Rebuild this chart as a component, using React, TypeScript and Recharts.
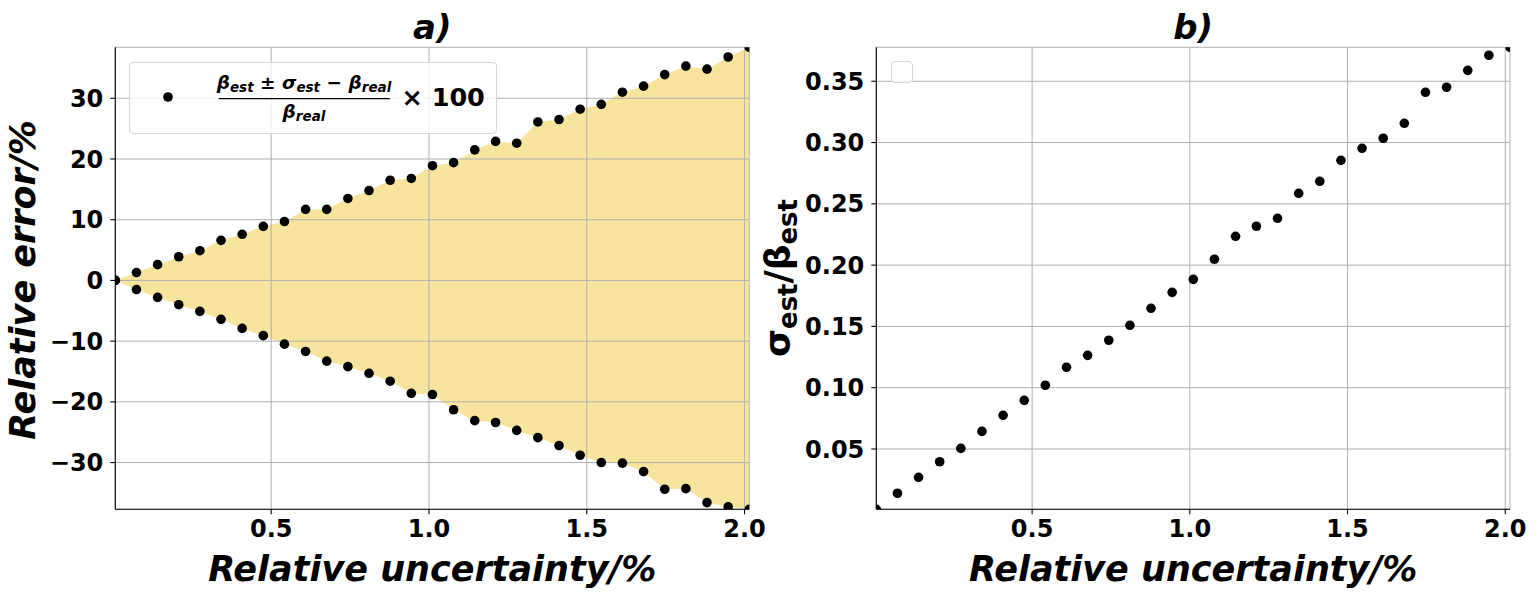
import { Area, CartesianGrid, ComposedChart, Label, Legend, Scatter, XAxis, YAxis } from 'recharts';

const uncertainty = [
  0.006, 0.073, 0.14, 0.207, 0.274, 0.341, 0.408, 0.475, 0.542, 0.609, 0.676, 0.743, 0.81, 0.877, 0.944, 1.011,
  1.078, 1.145, 1.211, 1.278, 1.345, 1.412, 1.479, 1.546, 1.613, 1.68, 1.747, 1.814, 1.881, 1.948, 2.015,
];
const errorUpper = [
  0, 1.3, 2.6, 3.9, 4.9, 6.6, 7.6, 8.9, 9.7, 11.7, 11.7, 13.5, 14.8, 16.5, 16.8, 18.9, 19.4, 21.5, 22.9, 22.6, 26.1,
  26.5, 28.2, 29.0, 31.0, 32.0, 33.9, 35.3, 34.8, 36.8, 38.4,
];
const errorLower = [
  0, -1.5, -2.8, -4.0, -5.1, -6.4, -7.9, -9.1, -10.5, -11.7, -13.3, -14.2, -15.3, -16.6, -18.6, -18.8, -21.3, -23.1,
  -23.4, -24.7, -25.9, -27.2, -28.8, -30.0, -30.1, -31.5, -34.4, -34.3, -36.6, -37.3, -37.7,
];
const sigmaRatio = [
  0.0008, 0.0139, 0.0269, 0.0396, 0.0505, 0.0644, 0.0775, 0.0897, 0.102, 0.1167, 0.1264, 0.1387, 0.1509, 0.1648,
  0.1778, 0.1884, 0.2048, 0.2235, 0.2317, 0.2382, 0.2586, 0.2684, 0.2855, 0.2953, 0.3035, 0.3157, 0.341, 0.3451,
  0.3589, 0.3712, 0.3777,
];

const xTicks = [0.5, 1.0, 1.5, 2.0];
const errorTicks = [-30, -20, -10, 0, 10, 20, 30];
const ratioTicks = [0.05, 0.1, 0.15, 0.2, 0.25, 0.3, 0.35];

const errorRows = uncertainty.map((x, i) => ({
  x,
  hi: errorUpper[i],
  lo: errorLower[i],
  band: [errorLower[i], errorUpper[i]],
}));
const ratioRows = uncertainty.map((x, i) => ({ x, ratio: sigmaRatio[i] }));

const FONT = '"DejaVu Sans", sans-serif';
const FILL = '#f8e59d';
const tickStyle = { fill: '#000', fontSize: 24, fontWeight: 'bold', fontFamily: FONT };
const spine = { stroke: '#000', strokeWidth: 1.1 };

const Dot = (p: any) => <circle cx={p.cx} cy={p.cy} r={4.8} fill="#000" />;

const fmtSigned = (v: number) => (v < 0 ? `\u2212${Math.abs(v)}` : `${v}`);

// panel title, hung off the bottom x axis so it gets the plot's x extent
const titleFor = (text: string) => (props: any) => {
  const vb = props.viewBox ?? {};
  return (
    <text
      x={vb.x + vb.width / 2}
      y={39}
      textAnchor="middle"
      fontFamily={FONT}
      fontSize={34}
      fontWeight="bold"
      fontStyle="italic"
    >
      {text}
    </text>
  );
};

const xTitle = (props: any) => {
  const vb = props.viewBox ?? {};
  return (
    <text
      x={vb.x + vb.width / 2}
      y={581}
      textAnchor="middle"
      fontFamily={FONT}
      fontSize={35}
      fontWeight="bold"
      fontStyle="italic"
    >
      Relative uncertainty/%
    </text>
  );
};

const errorTitle = () => (
  <text
    x={35}
    y={280}
    transform="rotate(-90, 35, 280)"
    textAnchor="middle"
    fontFamily={FONT}
    fontSize={35}
    fontWeight="bold"
    fontStyle="italic"
  >
    Relative error/%
  </text>
);

const ratioTitle = () => (
  <text
    x={35}
    y={278}
    transform="rotate(-90, 35, 278)"
    textAnchor="middle"
    fontFamily={FONT}
    fontSize={36}
    fontWeight="bold"
  >
    σ<tspan fontSize={26} dy={7}>est</tspan>
    <tspan dy={-7}>/β</tspan>
    <tspan fontSize={26} dy={7}>est</tspan>
  </text>
);

const legendBox = {
  border: '1px solid #d6d6d6',
  borderRadius: 4,
  background: 'rgba(255,255,255,0.8)',
  boxSizing: 'border-box' as const,
};

const ErrorLegend = () => (
  <div style={{ ...legendBox, width: 368, height: 72 }}>
    <svg width={368} height={72} style={{ display: 'block', marginLeft: -1, marginTop: -1 }}>
      <circle cx={39} cy={35} r={4.8} fill="#000" />
      <text x={175} y={26.5} textAnchor="middle" fontFamily={FONT} fontSize={18.5} fontWeight="bold">
        <tspan fontStyle="italic">β</tspan>
        <tspan fontStyle="italic" fontSize={13.5} dy={3}>est</tspan>
        <tspan dy={-3}> ± </tspan>
        <tspan fontStyle="italic">σ</tspan>
        <tspan fontStyle="italic" fontSize={13.5} dy={3}>est</tspan>
        <tspan dy={-3}> − </tspan>
        <tspan fontStyle="italic">β</tspan>
        <tspan fontStyle="italic" fontSize={13.5} dy={3}>real</tspan>
      </text>
      <line x1={89.7} x2={260.7} y1={36.6} y2={36.6} stroke="#000" strokeWidth={1.3} />
      <text x={175} y={56} textAnchor="middle" fontFamily={FONT} fontSize={18.5} fontWeight="bold" fontStyle="italic">
        β<tspan fontSize={13.5} dy={3}>real</tspan>
      </text>
      <text x={272.4} y={44} fontFamily={FONT} fontSize={25.5} fontWeight="bold">
        × 100
      </text>
    </svg>
  </div>
);

const EmptyLegend = () => <div style={{ ...legendBox, width: 22, height: 22 }} />;

export default function App() {
  return (
    <div
      style={{
        position: 'absolute',
        left: 0,
        top: 0,
        width: 1536,
        height: 596,
        background: '#fff',
        fontFamily: FONT,
      }}
    >
      <div style={{ position: 'absolute', left: 0, top: 0 }}>
        <ComposedChart width={785} height={596} data={errorRows} margin={{ top: 47.3, right: 35.7, bottom: 0, left: 0 }}>
          <Area
            dataKey="band"
            type="linear"
            stroke="none"
            fill={FILL}
            fillOpacity={1}
            dot={false}
            activeDot={false}
            isAnimationActive={false}
          />
          <CartesianGrid stroke="#b0b0b0" strokeWidth={1} zIndex={200} />
          <XAxis
            dataKey="x"
            type="number"
            domain={['dataMin', 'dataMax']}
            allowDataOverflow
            ticks={xTicks}
            interval={0}
            tickFormatter={(v: number) => v.toFixed(1)}
            height={86.7}
            tick={tickStyle}
            tickSize={5}
            tickMargin={6}
            tickLine={spine}
            axisLine={spine}
          >
            <Label content={xTitle} />
            <Label content={titleFor('a)')} />
          </XAxis>
          <XAxis xAxisId="top" orientation="top" type="number" dataKey="x" height={0} tick={false} tickLine={false} axisLine={spine} />
          <YAxis
            type="number"
            domain={[Math.min(...errorLower), Math.max(...errorUpper)]}
            allowDataOverflow
            ticks={errorTicks}
            interval={0}
            tickFormatter={fmtSigned}
            width={115.3}
            tick={tickStyle}
            tickSize={5}
            tickMargin={7}
            tickLine={spine}
            axisLine={spine}
          >
            <Label content={errorTitle} />
          </YAxis>
          <YAxis yAxisId="right" orientation="right" width={0} tick={false} tickLine={false} axisLine={spine} />
          <Scatter dataKey="hi" fill="#000" shape={Dot} isAnimationActive={false} />
          <Scatter dataKey="lo" fill="#000" shape={Dot} isAnimationActive={false} />
          <Legend
            layout="horizontal"
            verticalAlign="middle"
            align="center"
            wrapperStyle={{ left: 129.3, top: 61.7, width: 'auto', height: 'auto' }}
            content={ErrorLegend}
          />
        </ComposedChart>
      </div>
      <div style={{ position: 'absolute', left: 755, top: 0 }}>
        <ComposedChart width={781} height={596} data={ratioRows} margin={{ top: 47.3, right: 26, bottom: 0, left: 0 }}>
          <CartesianGrid stroke="#b0b0b0" strokeWidth={1} />
          <XAxis
            dataKey="x"
            type="number"
            domain={['dataMin', 'dataMax']}
            allowDataOverflow
            ticks={xTicks}
            interval={0}
            tickFormatter={(v: number) => v.toFixed(1)}
            height={86.7}
            tick={tickStyle}
            tickSize={5}
            tickMargin={6}
            tickLine={spine}
            axisLine={spine}
          >
            <Label content={xTitle} />
            <Label content={titleFor('b)')} />
          </XAxis>
          <XAxis xAxisId="top" orientation="top" type="number" dataKey="x" height={0} tick={false} tickLine={false} axisLine={spine} />
          <YAxis
            type="number"
            domain={[Math.min(...sigmaRatio), Math.max(...sigmaRatio)]}
            allowDataOverflow
            ticks={ratioTicks}
            interval={0}
            tickFormatter={(v: number) => v.toFixed(2)}
            width={121.3}
            tick={tickStyle}
            tickSize={5}
            tickMargin={7}
            tickLine={spine}
            axisLine={spine}
          >
            <Label content={ratioTitle} />
          </YAxis>
          <YAxis yAxisId="right" orientation="right" width={0} tick={false} tickLine={false} axisLine={spine} />
          <Scatter dataKey="ratio" fill="#000" shape={Dot} isAnimationActive={false} />
          <Legend
            layout="horizontal"
            verticalAlign="middle"
            align="center"
            wrapperStyle={{ left: 135.7, top: 61.3, width: 'auto', height: 'auto' }}
            content={EmptyLegend}
          />
        </ComposedChart>
      </div>
    </div>
  );
}
